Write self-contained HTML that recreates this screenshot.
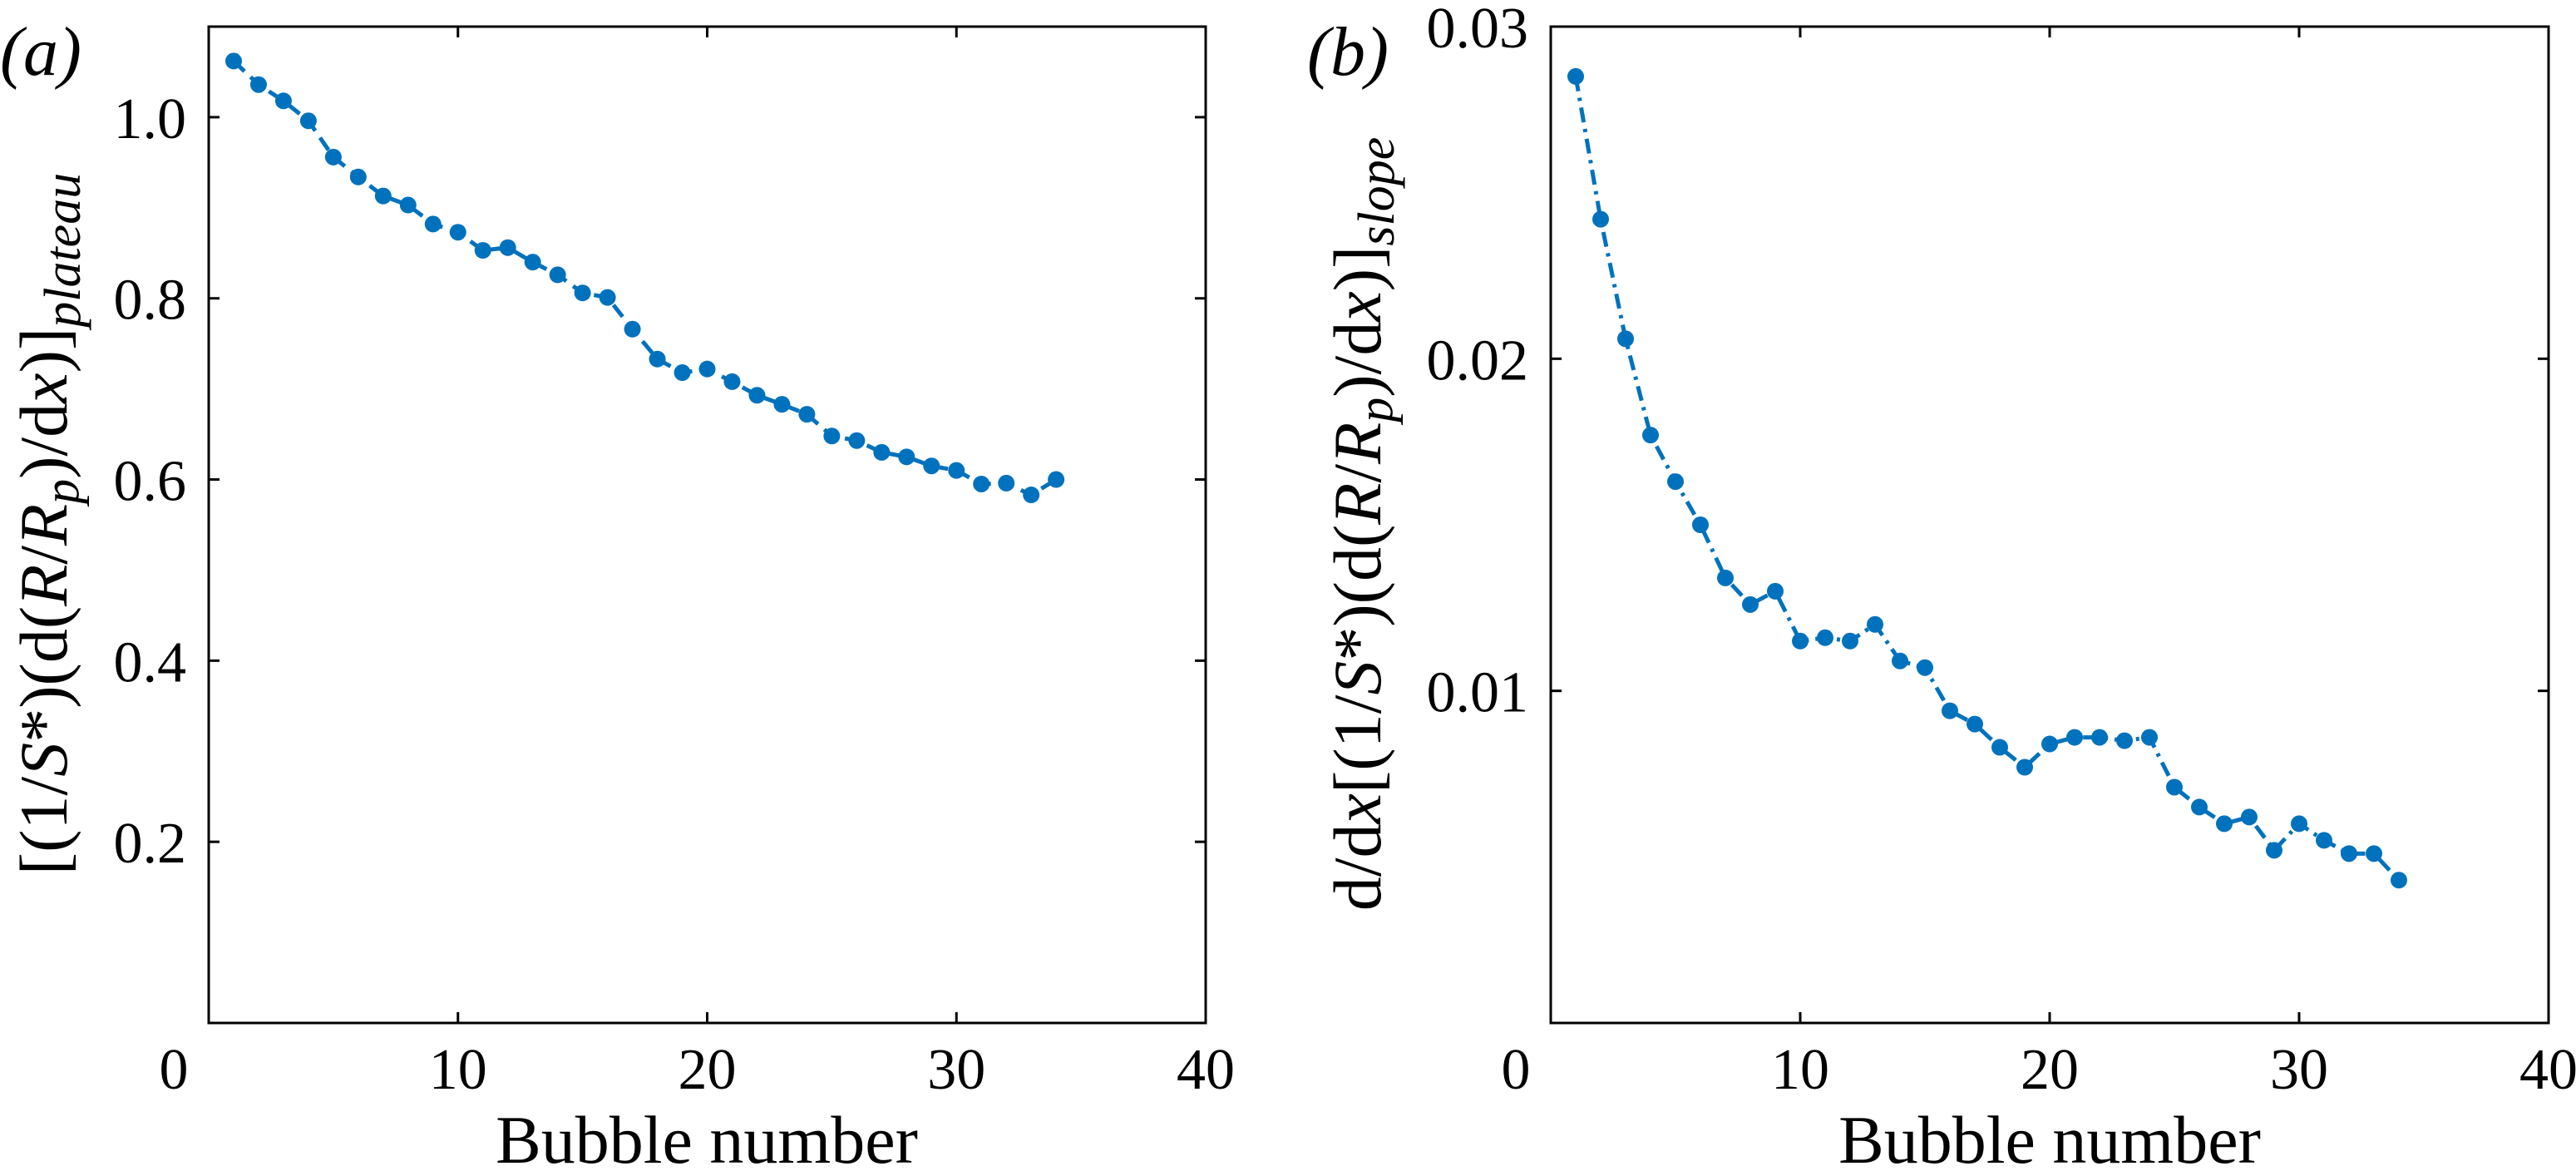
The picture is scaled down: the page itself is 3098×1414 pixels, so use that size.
<!DOCTYPE html>
<html><head><meta charset="utf-8"><style>
html,body{margin:0;padding:0;background:#fff}
svg{display:block}
svg text{font-family:"Liberation Serif","Times New Roman",serif;fill:#000}
</style></head><body>
<svg id="chart" width="3098" height="1414" viewBox="0 0 3098 1414" xmlns="http://www.w3.org/2000/svg" font-family="Liberation Serif, serif">
<text x="0" y="90" font-size="84" font-style="italic" font-family="Liberation Serif, serif">(a)</text>
<text x="1572" y="90" font-size="84" font-style="italic" font-family="Liberation Serif, serif">(b)</text>
<text transform="translate(80,630) rotate(-90)" text-anchor="middle" font-size="82" font-family="Liberation Serif, serif">[(1/<tspan font-style="italic">S</tspan>*)(d(<tspan font-style="italic">R</tspan>/<tspan font-style="italic">R</tspan><tspan font-style="italic" font-size="60" dy="14">p</tspan><tspan dy="-14">)/d</tspan><tspan font-style="italic">x</tspan>)]<tspan font-style="italic" font-size="62" dy="16">plateau</tspan></text>
<text transform="translate(1660,630) rotate(-90)" text-anchor="middle" font-size="82" font-family="Liberation Serif, serif">d/d<tspan font-style="italic">x</tspan>[(1/<tspan font-style="italic">S</tspan>*)(d(<tspan font-style="italic">R</tspan>/<tspan font-style="italic">R</tspan><tspan font-style="italic" font-size="60" dy="14">p</tspan><tspan dy="-14">)/d</tspan><tspan font-style="italic">x</tspan>)]<tspan font-style="italic" font-size="62" dy="16">slope</tspan></text>
<text x="850" y="1398" text-anchor="middle" font-size="82" font-family="Liberation Serif, serif">Bubble number</text>
<text x="2465" y="1398" text-anchor="middle" font-size="82" font-family="Liberation Serif, serif">Bubble number</text>
<g id="pa"></g>
<g id="pb"></g>
</svg>
<script>
const bubbles = [1,2,3,4,5,6,7,8,9,10,11,12,13,14,15,16,17,18,19,20,21,22,23,24,25,26,27,28,29,30,31,32,33,34];
const plateauValues = [1.062,1.036,1.018,0.996,0.956,0.934,0.913,0.903,0.882,0.873,0.853,0.856,0.840,0.826,0.806,0.801,0.766,0.733,0.718,0.722,0.708,0.693,0.683,0.672,0.648,0.643,0.630,0.625,0.615,0.610,0.595,0.596,0.583,0.600];
const slopeValues = [0.0285,0.0242,0.0206,0.0177,0.0163,0.0150,0.0134,0.0126,0.0130,0.0115,0.0116,0.0115,0.0120,0.0109,0.0107,0.0094,0.0090,0.0083,0.0077,0.0084,0.0086,0.0086,0.0085,0.0086,0.0071,0.0065,0.0060,0.0062,0.0052,0.0060,0.0055,0.0051,0.0051,0.0043];
const xTicks = [0,10,20,30,40];
const xTickLabels = ["0","10","20","30","40"];
const yTicksA = [0.2,0.4,0.6,0.8,1.0];
const yTickLabelsA = ["0.2","0.4","0.6","0.8","1.0"];
const yTicksB = [0.01,0.02,0.03];
const yTickLabelsB = ["0.01","0.02","0.03"];

const NS="http://www.w3.org/2000/svg";
function mk(tag,attrs,parent){const e=document.createElementNS(NS,tag);for(const k in attrs)e.setAttribute(k,attrs[k]);parent.appendChild(e);return e;}
function panel(g,L,R,T,B,ymax,yt,ytl,vals,dash,nm){
  const sx=v=>L+(v-0)/40*(R-L);
  const sy=v=>B-(v/ymax)*(B-T);
  const fr=mk('rect',{x:L,y:T,width:R-L,height:B-T,fill:'none',stroke:'#000','stroke-width':3},g);
  
  
  xTicks.forEach((t,i)=>{
    const x=sx(t);
    if(t>0&&t<40){
      const a=mk('line',{x1:x,y1:B,x2:x,y2:B-13,stroke:'#000','stroke-width':3},g);
      
      
      const b=mk('line',{x1:x,y1:T,x2:x,y2:T+13,stroke:'#000','stroke-width':3},g);
      
      
    }
    const lx = t===0 ? x-42 : x;
    const tx=mk('text',{x:lx,y:1309,'text-anchor':'middle','font-size':70,'font-family':'Liberation Serif, serif'},g);
    tx.textContent=xTickLabels[i];
    
    
  });
  yt.forEach((t,i)=>{
    const y=sy(t);
    if(t<ymax-1e-9){
      const a=mk('line',{x1:L,y1:y,x2:L+13,y2:y,stroke:'#000','stroke-width':3},g);
      
      
      const b=mk('line',{x1:R,y1:y,x2:R-13,y2:y,stroke:'#000','stroke-width':3},g);
      
      
    }
    const tx=mk('text',{x:L-27,y:y+25,'text-anchor':'end','font-size':70,'font-family':'Liberation Serif, serif'},g);
    tx.textContent=ytl[i];
    
    
  });
  const pts=bubbles.map((b,i)=>sx(b)+','+sy(vals[i])).join(' ');
  const ln=mk('polyline',{points:pts,fill:'none',stroke:'#0072BD','stroke-width':5,'stroke-dasharray':dash},g);
  
  
  bubbles.forEach((b,i)=>{
    const c=mk('circle',{cx:sx(b),cy:sy(vals[i]),r:10,fill:'#0072BD'},g);
    
    
  });
}
panel(document.getElementById('pa'),251,1450,32,1230,1.1,yTicksA,yTickLabelsA,plateauValues,'18,10','plateau');
panel(document.getElementById('pb'),1865,3065,32,1230,0.03,yTicksB,yTickLabelsB,slopeValues,'18,8,4,8','slope');
</script>
</body></html>
